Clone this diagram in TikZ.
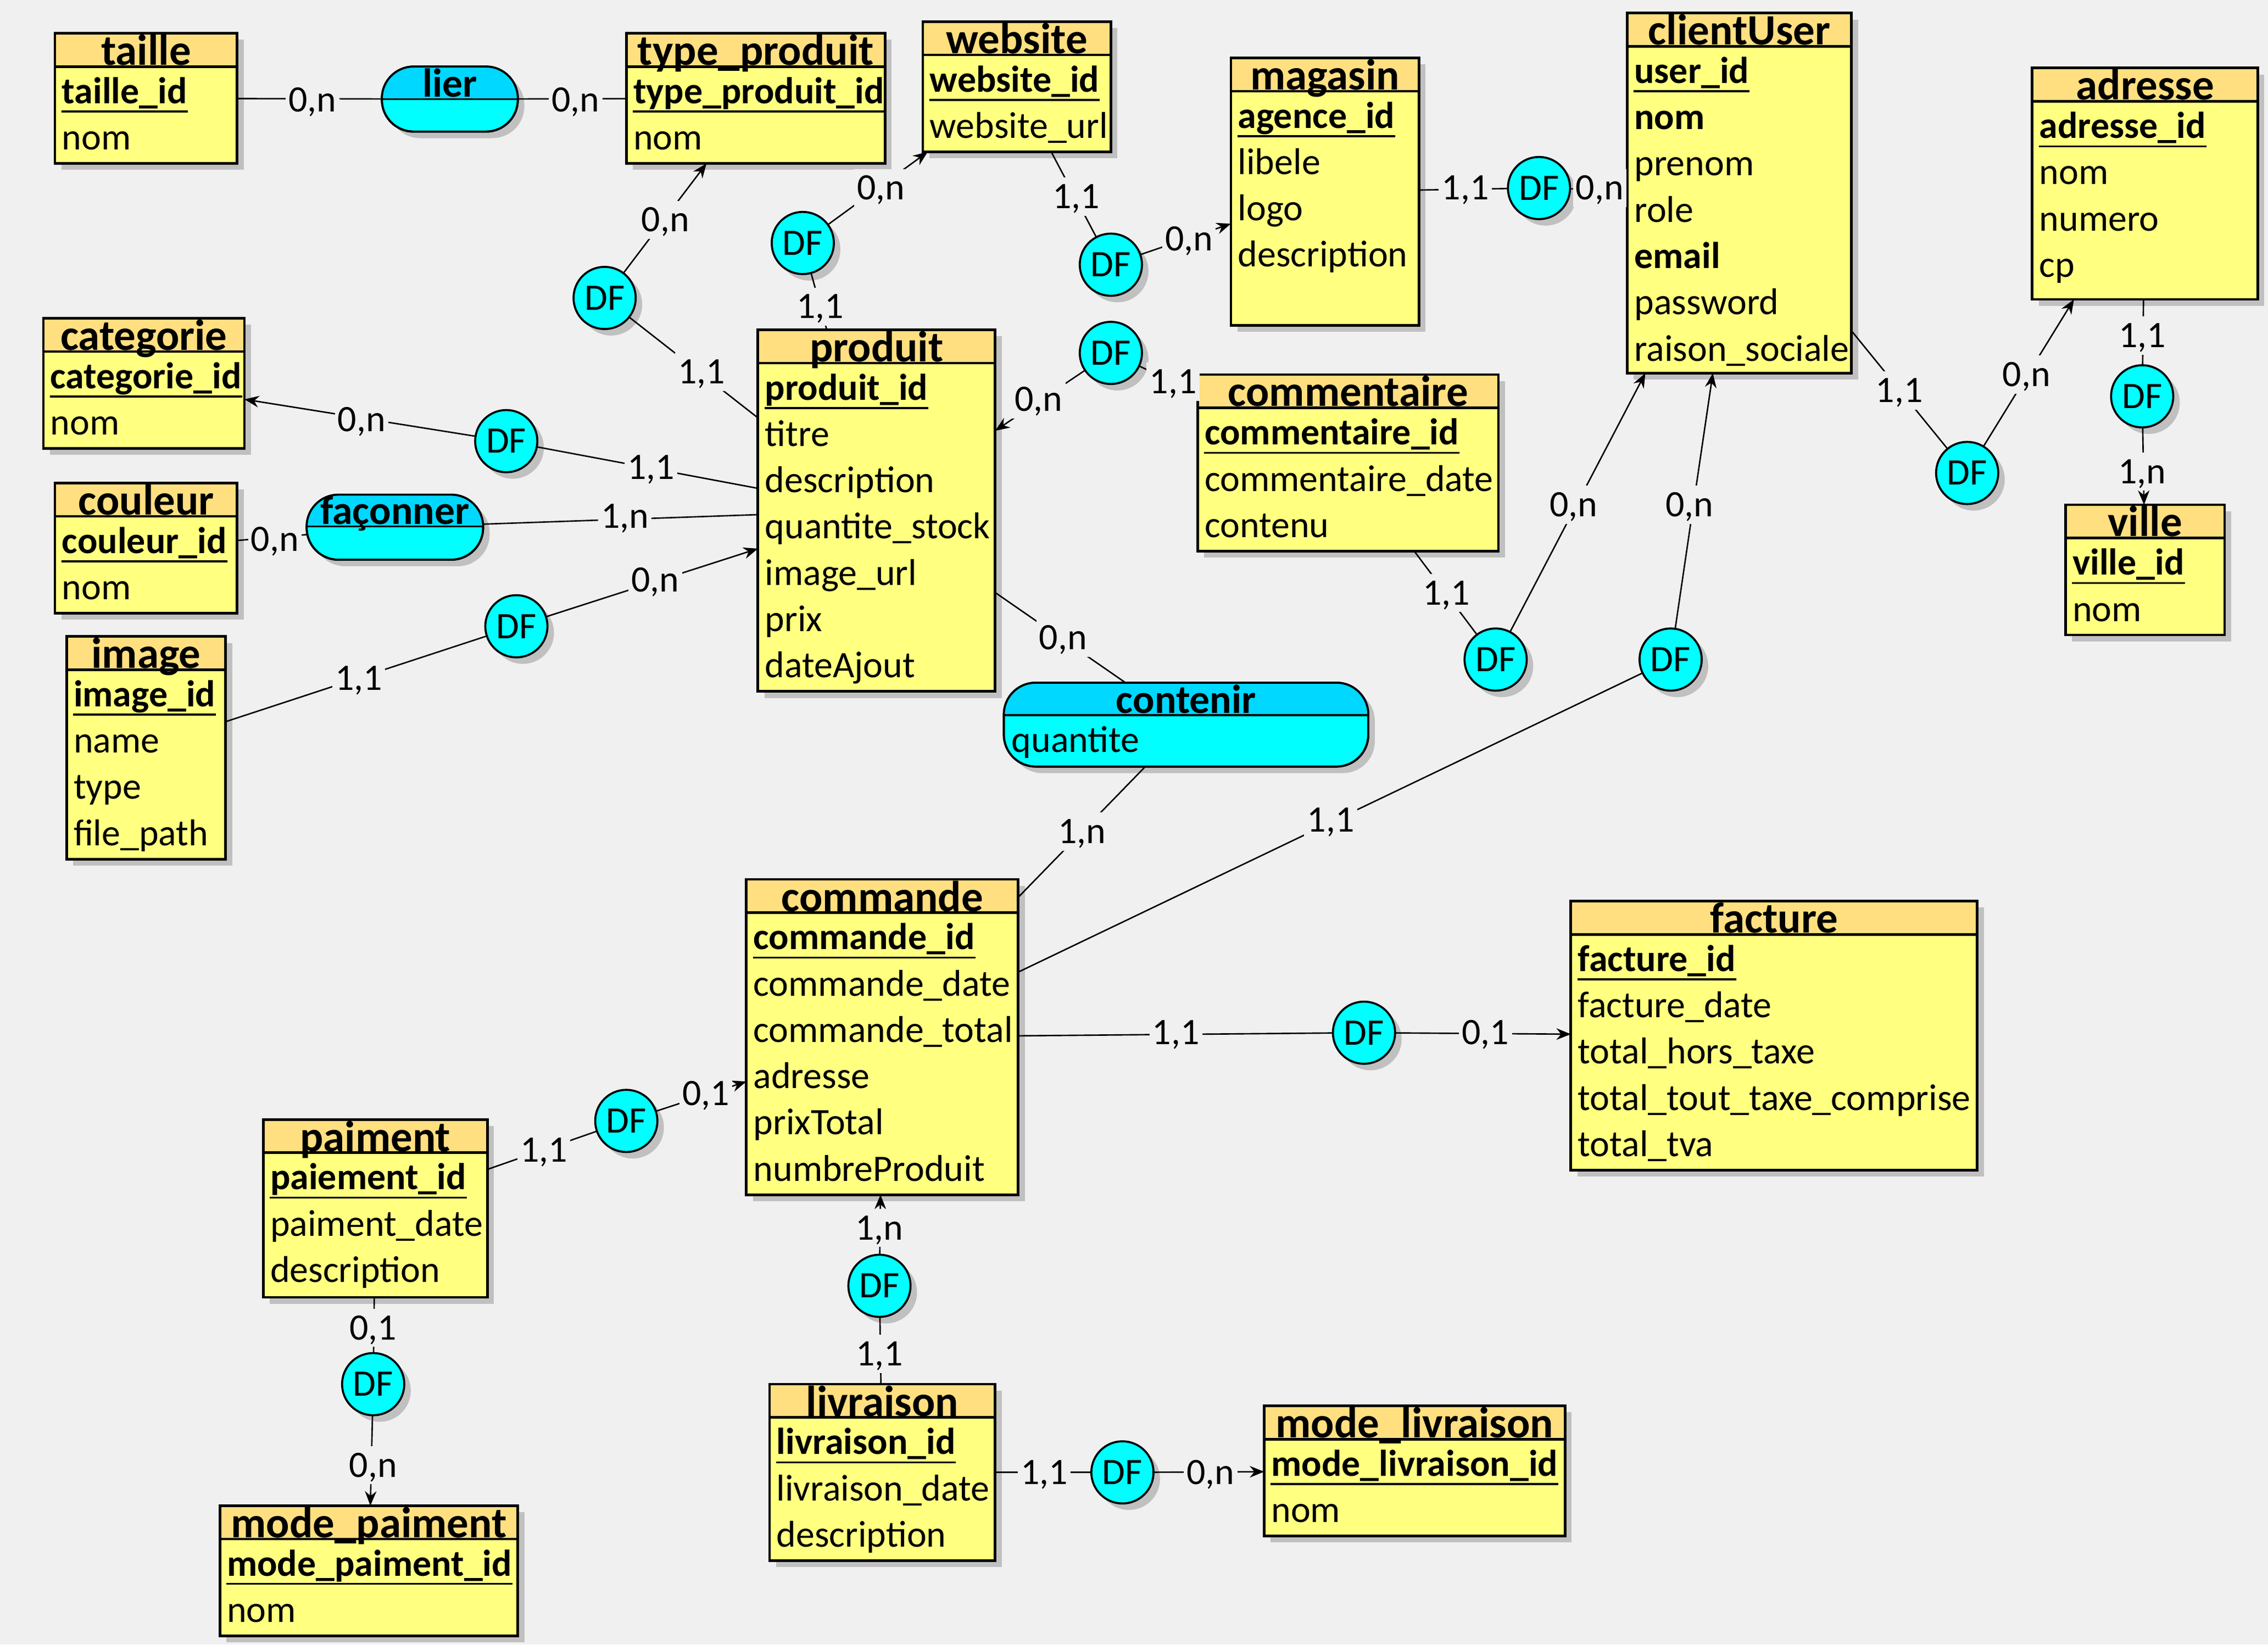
\documentclass[tikz,border=0pt]{standalone}
\usepackage{fontspec}
\setmainfont{Carlito}
\usetikzlibrary{shadows,arrows.meta}
\definecolor{bgc}{HTML}{F0F0F0}
\definecolor{headc}{HTML}{FFDF80}
\definecolor{bodyc}{HTML}{FFFF80}
\definecolor{ahead}{HTML}{00D8FF}
\definecolor{abody}{HTML}{00FFFF}
\definecolor{shadowc}{HTML}{C0C0C0}
\newcommand\attrfont{\fontsize{12.9}{15}\selectfont}
\newcommand\titlefont{\fontsize{15}{18}\selectfont\bfseries}
\newcommand\atitlefont{\fontsize{14}{17}\selectfont\bfseries}
\tikzset{
 shd/.style={drop shadow={shadow xshift=2.25pt,shadow yshift=-2.25pt,fill=shadowc,opacity=1}},
 entbox/.style={rectangle,draw,line width=0.9pt,fill=bodyc,inner sep=0pt,outer sep=0pt,shd},
 boxline/.style={line width=0.9pt},
 ttl/.style={anchor=base,inner sep=0pt,font=\titlefont},
 attl/.style={anchor=base,inner sep=0pt,font=\atitlefont},
 attr/.style={anchor=base west,inner sep=0pt,font=\attrfont},
 keyattr/.style={attr,font=\attrfont\bfseries},
 boldattr/.style={attr,font=\attrfont\bfseries},
 keyline/.style={line width=0.65pt},
 df/.style={circle,draw,line width=0.7pt,fill=abody,minimum size=21.5pt,inner sep=0pt,outer sep=0pt,font=\attrfont,shd},
 link/.style={line width=0.5pt},
 arr/.style={link,-{Stealth[length=5pt,width=4pt]}},
 card/.style={fill=bgc,inner sep=1pt,text height=9.7pt,text depth=1.5pt,font=\attrfont},
 assbox/.style={rectangle,rounded corners=11pt,draw,line width=0.7pt,fill=abody,inner sep=0pt,outer sep=0pt,shd},
}
% entity: name, x1, y1, x2, y2, title
\newcommand\ent[6]{%
 \def\en{#1}\def\ex{#2}\def\ey{#3}%
 \node[entbox,minimum width={0.5pt*(#4-#2)},minimum height={0.5pt*(#5-#3)}] (#1) at ({(#2+#4)/2},{(#3+#5)/2}) {};
 \fill[headc] (#2,#3) rectangle (#4,#3+23);
 \draw[boxline] (#2,#3+23) -- (#4,#3+23);
 \draw[boxline] (#2,#3) rectangle (#4,#5);
 \node[ttl] (#1-t) at ({(#2+#4)/2},#3+22) {#6};
}
\newcommand\arow[3]{\node[#2] (\en-#1) at (\ex+4.5,\ey+48.5+32*#1) {#3};}
\newcommand\krow[1]{\arow{0}{keyattr}{#1}\draw[keyline] ([yshift=-2.8pt]\en-0.base west) -- ([yshift=-2.8pt]\en-0.base east);}
% association: name, x1, y1, x2, y2, separator y, title
\newcommand\asso[7]{%
 \def\en{#1}\def\ex{#2}\def\ey{#6}%
 \node[assbox,minimum width={0.5pt*(#4-#2)},minimum height={0.5pt*(#5-#3)}] (#1) at ({(#2+#4)/2},{(#3+#5)/2}) {};
 \begin{scope}
  \clip[rounded corners=11pt] (#2,#3) rectangle (#4,#5);
  \fill[ahead] (#2,#3) rectangle (#4,#6);
 \end{scope}
 \draw[line width=0.7pt,rounded corners=11pt] (#2,#3) rectangle (#4,#5);
 \draw[line width=0.7pt] (#2,#6) -- (#4,#6);
 \node[attl] (#1-t) at ({(#2+#4)/2},#6-1.5) {#7};
}
\begin{document}
\begin{tikzpicture}[x=0.5pt,y=-0.5pt]
\fill[bgc] (0,0) rectangle (1568,1137);
\useasboundingbox (0,0) rectangle (1568,1137);

% ---------- entities
\ent{taille}{38}{23}{164}{113}{taille}
 \krow{taille\_id} \arow{1}{attr}{nom}
\ent{typeproduit}{433}{23}{612}{113}{type\_produit}
 \krow{type\_produit\_id} \arow{1}{attr}{nom}
\ent{website}{638}{15}{768}{105}{website}
 \krow{website\_id} \arow{1}{attr}{website\_url}
\ent{magasin}{851}{40}{981}{225}{magasin}
 \krow{agence\_id} \arow{1}{attr}{libele} \arow{2}{attr}{logo} \arow{3}{attr}{description}
\ent{clientuser}{1125}{9}{1280}{258}{clientUser}
 \krow{user\_id} \arow{1}{boldattr}{nom} \arow{2}{attr}{prenom} \arow{3}{attr}{role}
 \arow{4}{boldattr}{email} \arow{5}{attr}{password} \arow{6}{attr}{raison\_sociale}
\ent{adresse}{1405}{47}{1561}{207}{adresse}
 \krow{adresse\_id} \arow{1}{attr}{nom} \arow{2}{attr}{numero} \arow{3}{attr}{cp}
\ent{ville}{1428}{349}{1538}{439}{ville}
 \krow{ville\_id} \arow{1}{attr}{nom}
\ent{categorie}{30}{220}{169}{310}{categorie}
 \krow{categorie\_id} \arow{1}{attr}{nom}
\ent{couleur}{38}{334}{164}{424}{couleur}
 \krow{couleur\_id} \arow{1}{attr}{nom}
\ent{image}{46}{440}{156}{594}{image}
 \krow{image\_id} \arow{1}{attr}{name} \arow{2}{attr}{type} \arow{3}{attr}{file\_path}
\ent{produit}{524}{228}{688}{478}{produit}
 \krow{produit\_id} \arow{1}{attr}{titre} \arow{2}{attr}{description} \arow{3}{attr}{quantite\_stock}
 \arow{4}{attr}{image\_url} \arow{5}{attr}{prix} \arow{6}{attr}{dateAjout}
\ent{commentaire}{828}{259}{1036}{381}{commentaire}
 \krow{commentaire\_id} \arow{1}{attr}{commentaire\_date} \arow{2}{attr}{contenu}
\ent{commande}{516}{608}{704}{826}{commande}
 \krow{commande\_id} \arow{1}{attr}{commande\_date} \arow{2}{attr}{commande\_total}
 \arow{3}{attr}{adresse} \arow{4}{attr}{prixTotal} \arow{5}{attr}{numbreProduit}
\ent{facture}{1086}{623}{1367}{809}{facture}
 \krow{facture\_id} \arow{1}{attr}{facture\_date} \arow{2}{attr}{total\_hors\_taxe}
 \arow{3}{attr}{total\_tout\_taxe\_comprise} \arow{4}{attr}{total\_tva}
\ent{paiment}{182}{774}{337}{897}{paiment}
 \krow{paiement\_id} \arow{1}{attr}{paiment\_date} \arow{2}{attr}{description}
\ent{modepaiment}{152}{1041}{358}{1131}{mode\_paiment}
 \krow{mode\_paiment\_id} \arow{1}{attr}{nom}
\ent{livraison}{532}{957}{688}{1079}{livraison}
 \krow{livraison\_id} \arow{1}{attr}{livraison\_date} \arow{2}{attr}{description}
\ent{modelivraison}{874}{972}{1082}{1062}{mode\_livraison}
 \krow{mode\_livraison\_id} \arow{1}{attr}{nom}

% ---------- associations
\asso{lier}{264}{46}{358}{91}{68.5}{lier}
\asso{faconner}{212}{342}{334}{387}{364}{façonner}
\asso{contenir}{694}{472}{946}{530}{494.5}{contenir}
\node[attr] (contenir-q) at (699,520) {quantite};

% ---------- DF
\node[df] (df1) at (418,206) {DF};
\node[df] (df2) at (555,168) {DF};
\node[df] (df3) at (768,183) {DF};
\node[df] (df4) at (1064,130) {DF};
\node[df] (df5) at (768,244) {DF};
\node[df] (df6) at (350,305) {DF};
\node[df] (df7) at (357,433) {DF};
\node[df] (df8) at (1034,456) {DF};
\node[df] (df9) at (1155,456) {DF};
\node[df] (df10) at (1360,327) {DF};
\node[df] (df11) at (1481,274) {DF};
\node[df] (df12) at (943,714) {DF};
\node[df] (df13) at (433,775) {DF};
\node[df] (df14) at (608,889) {DF};
\node[df] (df15) at (258,957) {DF};
\node[df] (df16) at (776,1018) {DF};

% ---------- connectors
\draw[link] (taille) -- (lier);
\draw[link] (lier) -- (typeproduit);
\draw[arr] (df1) -- (typeproduit); \draw[link] (df1) -- (produit);
\draw[arr] (df2) -- (website); \draw[link] (df2) -- (produit);
\draw[arr] (df3) -- (magasin); \draw[link] (df3) -- (website);
\draw[link] (df4) -- (clientuser); \draw[link] (df4) -- (magasin);
\draw[arr] (df5) -- (produit); \draw[link] (df5) -- (commentaire);
\draw[arr] (df6) -- (categorie); \draw[link] (df6) -- (produit);
\draw[link] (couleur) -- (faconner); \draw[link] (faconner) -- (produit);
\draw[arr] (df7) -- (produit); \draw[link] (df7) -- (image);
\draw[link] (produit) -- (contenir); \draw[link] (contenir) -- (commande);
\draw[arr] (df8) -- (clientuser); \draw[link] (df8) -- (commentaire);
\draw[arr] (df9) -- (clientuser); \draw[link] (df9) -- (commande);
\draw[arr] (df10) -- (adresse); \draw[link] (df10) -- (clientuser);
\draw[arr] (df11) -- (ville); \draw[link] (df11) -- (adresse);
\draw[arr] (df12) -- (facture); \draw[link] (df12) -- (commande);
\draw[arr] (df13) -- (commande); \draw[link] (df13) -- (paiment);
\draw[arr] (df14) -- (commande); \draw[link] (df14) -- (livraison);
\draw[arr] (df15) -- (modepaiment); \draw[link] (df15) -- (paiment);
\draw[arr] (df16) -- (modelivraison); \draw[link] (df16) -- (livraison);

% ---------- cardinalities
\node[card] (c1) at (216,69) {0,n};
\node[card] (c2) at (398,69) {0,n};
\node[card] (c3) at (460,152) {0,n};
\node[card] (c4) at (485,257) {1,1};
\node[card] (c5) at (567,212) {1,1};
\node[card] (c6) at (609,130) {0,n};
\node[card] (c7) at (744,136) {1,1};
\node[card] (c8) at (822,165) {0,n};
\node[card] (c9) at (1013,130) {1,1};
\node[card] (c10) at (1106,130) {0,n};
\node[card] (c11) at (718,276) {0,n};
\node[card] (c12) at (811,264) {1,1};
\node[card] (c13) at (250,290) {0,n};
\node[card] (c14) at (450,323) {1,1};
\node[card] (c15) at (190,373) {0,n};
\node[card] (c16) at (432,357) {1,n};
\node[card] (c17) at (248,469) {1,1};
\node[card] (c18) at (453,401) {0,n};
\node[card] (c19) at (735,441) {0,n};
\node[card] (c20) at (748,575) {1,n};
\node[card] (c21) at (1000,410) {1,1};
\node[card] (c22) at (1088,349) {0,n};
\node[card] (c23) at (920,567) {1,1};
\node[card] (c24) at (1168,349) {0,n};
\node[card] (c25) at (1313,270) {1,1};
\node[card] (c26) at (1401,259) {0,n};
\node[card] (c27) at (1481,232) {1,1};
\node[card] (c28) at (1481,326) {1,n};
\node[card] (c29) at (813,714) {1,1};
\node[card] (c30) at (1027,714) {0,1};
\node[card] (c31) at (376,795) {1,1};
\node[card] (c32) at (488,756) {0,1};
\node[card] (c33) at (608,849) {1,n};
\node[card] (c34) at (608,936) {1,1};
\node[card] (c35) at (258,918) {0,1};
\node[card] (c36) at (258,1013) {0,n};
\node[card] (c37) at (722,1018) {1,1};
\node[card] (c38) at (837,1018) {0,n};
\end{tikzpicture}
\end{document}
